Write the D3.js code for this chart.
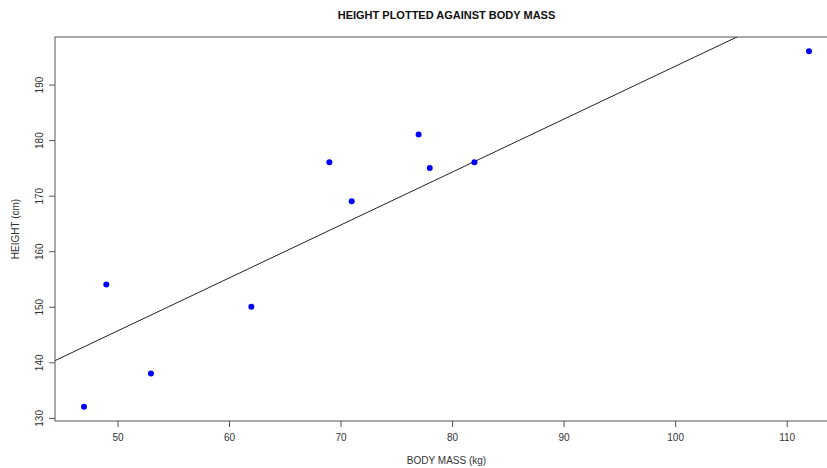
<!DOCTYPE html>
<html>
<head>
<meta charset="utf-8">
<title>Height vs body mass</title>
<script src="https://d3js.org/d3.v7.min.js"></script>
<style>
  body { margin: 0; background: #fff; }
  svg { display: block; font-family: "Liberation Sans", Arial, sans-serif; }
</style>
</head>
<body>
<div id="chart"></div>
<script>
// data
var bodyMass = [47, 49, 53, 62, 69, 71, 77, 78, 82, 112];
var height = [132, 154, 138, 150, 176, 169, 181, 175, 176, 196];
var xTicks = [50, 60, 70, 80, 90, 100, 110];
var yTicks = [130, 140, 150, 160, 170, 180, 190];

var W = 827, H = 468;
// plot box (right edge runs past the window, as in the reference)
var boxL = 55, boxT = 37, boxR = 838, boxB = 421;

var svg = d3.select("#chart").append("svg")
    .attr("width", W)
    .attr("height", H);

// R-style 4% padding on the ranges
var xr = d3.extent(bodyMass), yr = d3.extent(height);
var xp = (xr[1] - xr[0]) * 0.04, yp = (yr[1] - yr[0]) * 0.04;

var x = d3.scaleLinear().domain([xr[0] - xp, xr[1] + xp]).range([boxL, boxR]);
var y = d3.scaleLinear().domain([yr[0] - yp, yr[1] + yp]).range([boxB, boxT]);

// least squares fit for the line
var mx = d3.mean(bodyMass), my = d3.mean(height);
var sxy = d3.sum(bodyMass, function(d, i) { return (d - mx) * (height[i] - my); });
var sxx = d3.sum(bodyMass, function(d) { return (d - mx) * (d - mx); });
var slope = sxy / sxx, intercept = my - slope * mx;

svg.append("defs").append("clipPath").attr("id", "clip")
  .append("rect")
    .attr("x", boxL).attr("y", boxT)
    .attr("width", boxR - boxL).attr("height", boxB - boxT);

// axes
var xAxis = svg.append("g")
    .attr("transform", "translate(0," + boxB + ")")
    .call(d3.axisBottom(x).tickValues(xTicks).tickSize(6).tickFormat(d3.format("d")));
var yAxis = svg.append("g")
    .attr("transform", "translate(" + boxL + ",0)")
    .call(d3.axisLeft(y).tickValues(yTicks).tickSize(6).tickFormat(d3.format("d")));

[xAxis, yAxis].forEach(function(g) {
  g.select(".domain").remove();
  g.selectAll(".tick line").attr("stroke", "#555");
  g.selectAll(".tick text").attr("fill", "#333").style("font-size", "10px")
    .style("font-family", "'Liberation Sans', Arial, sans-serif");
});
xAxis.selectAll(".tick text").attr("y", 13);
yAxis.selectAll(".tick text")
    .attr("x", null).attr("dy", null)
    .attr("text-anchor", "middle")
    .attr("transform", "translate(-12,0) rotate(-90)");

// frame
svg.append("rect")
    .attr("x", boxL).attr("y", boxT)
    .attr("width", boxR - boxL).attr("height", boxB - boxT)
    .attr("fill", "none").attr("stroke", "#555").attr("stroke-width", 1);

// regression line
var x0 = x.domain()[0], x1 = x.domain()[1];
svg.append("line")
    .attr("clip-path", "url(#clip)")
    .attr("x1", x(x0)).attr("y1", y(intercept + slope * x0))
    .attr("x2", x(x1)).attr("y2", y(intercept + slope * x1))
    .attr("stroke", "#222").attr("stroke-width", 1);

// points
svg.selectAll("circle.pt")
    .data(bodyMass)
  .enter().append("circle")
    .attr("class", "pt")
    .attr("cx", function(d) { return x(d); })
    .attr("cy", function(d, i) { return y(height[i]); })
    .attr("r", 3)
    .attr("fill", "#0000ff");

// titles
var cx = (boxL + boxR) / 2;
svg.append("text")
    .attr("x", cx).attr("y", 19)
    .attr("text-anchor", "middle")
    .style("font-size", "11px").style("font-weight", "bold")
    .attr("fill", "#111")
    .text("HEIGHT PLOTTED AGAINST BODY MASS");

svg.append("text")
    .attr("x", cx).attr("y", 464)
    .attr("text-anchor", "middle")
    .style("font-size", "10px")
    .attr("fill", "#333")
    .text("BODY MASS (kg)");

svg.append("text")
    .attr("transform", "translate(19," + ((boxT + boxB) / 2) + ") rotate(-90)")
    .attr("text-anchor", "middle")
    .style("font-size", "10px")
    .attr("fill", "#333")
    .text("HEIGHT (cm)");
</script>
</body>
</html>
